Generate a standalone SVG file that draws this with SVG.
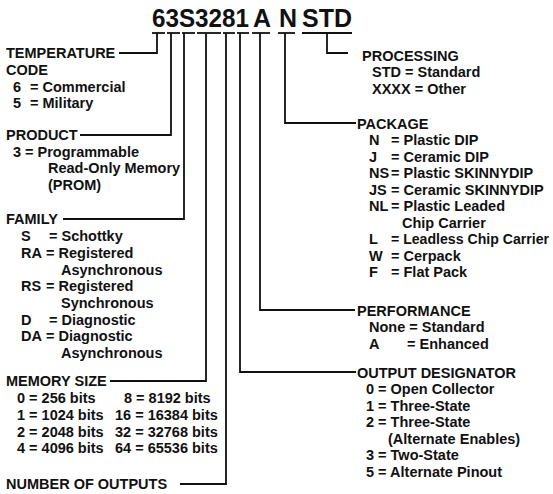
<svg xmlns="http://www.w3.org/2000/svg" width="553" height="494" viewBox="0 0 553 494">
<style>
text{font-family:"Liberation Sans",Arial,sans-serif;font-weight:bold;font-size:14.5px;fill:#111}
.h{font-size:25px}
.c path,.c line{stroke:#111;stroke-width:1.8;fill:none}
</style>
<rect width="553" height="494" fill="#fff"/>
<g id="partnumber">
<text class="h" x="152" y="27" textLength="97" lengthAdjust="spacingAndGlyphs">63S3281</text>
<text class="h" x="253" y="27">A</text>
<text class="h" x="279" y="27">N</text>
<text class="h" x="302" y="27" textLength="50" lengthAdjust="spacingAndGlyphs">STD</text>
</g>
<g class="c" id="connectors">
<line x1="152" y1="33" x2="165" y2="33"/>
<line x1="167" y1="33" x2="180" y2="33"/>
<line x1="182" y1="33" x2="195" y2="33"/>
<line x1="197" y1="33" x2="221" y2="33"/>
<line x1="223" y1="33" x2="235" y2="33"/>
<line x1="237" y1="33" x2="249" y2="33"/>
<line x1="252" y1="33" x2="270" y2="33"/>
<line x1="278" y1="33" x2="295" y2="33"/>
<line x1="302" y1="33" x2="352" y2="33"/>
<path d="M157 33V53H119"/>
<path d="M171 33V135H80"/>
<path d="M184 33V219H63"/>
<path d="M206 33V381H110"/>
<path d="M226 33V484H180"/>
<path d="M240 33V372H356"/>
<path d="M260 33V310H355"/>
<path d="M285 33V123H356"/>
<path d="M327 33V53H348"/>
</g>
<g id="temperature">
<text x="6" y="58">TEMPERATURE</text>
<text x="6" y="75">CODE</text>
<text x="13" y="91.5">6</text><text x="30" y="91.5">= Commercial</text>
<text x="13" y="108">5</text><text x="30" y="108">= Military</text>
</g>
<g id="product">
<text x="6" y="140">PRODUCT</text>
<text x="13" y="156.5">3</text><text x="25" y="156.5">= Programmable</text>
<text x="48" y="173">Read-Only Memory</text>
<text x="48" y="190">(PROM)</text>
</g>
<g id="family">
<text x="6" y="224">FAMILY</text>
<text x="21" y="241">S</text><text x="49" y="241">= Schottky</text>
<text x="21" y="258">RA</text><text x="46" y="258">= Registered</text>
<text x="61" y="274.5">Asynchronous</text>
<text x="21" y="291">RS</text><text x="46" y="291">= Registered</text>
<text x="61" y="308">Synchronous</text>
<text x="21" y="324.5">D</text><text x="49" y="324.5">= Diagnostic</text>
<text x="21" y="341">DA</text><text x="46" y="341">= Diagnostic</text>
<text x="61" y="358">Asynchronous</text>
</g>
<g id="memorysize">
<text x="6" y="386">MEMORY SIZE</text>
<text x="17" y="403">0 = 256 bits</text><text x="124" y="403">8 = 8192 bits</text>
<text x="17" y="420">1 = 1024 bits</text><text x="115" y="420">16 = 16384 bits</text>
<text x="17" y="436.5">2 = 2048 bits</text><text x="115" y="436.5">32 = 32768 bits</text>
<text x="17" y="453">4 = 4096 bits</text><text x="115" y="453">64 = 65536 bits</text>
</g>
<g id="outputs">
<text x="6" y="489">NUMBER OF OUTPUTS</text>
</g>
<g id="processing">
<text x="362" y="60.5">PROCESSING</text>
<text x="372" y="77">STD = Standard</text>
<text x="372" y="93.5">XXXX = Other</text>
</g>
<g id="package">
<text x="357" y="128.5">PACKAGE</text>
<text x="369" y="145">N</text><text x="391" y="145">= Plastic DIP</text>
<text x="369" y="161.5">J</text><text x="391" y="161.5">= Ceramic DIP</text>
<text x="369" y="178">NS</text><text x="391" y="178">= Plastic SKINNYDIP</text>
<text x="369" y="194.5">JS</text><text x="391" y="194.5">= Ceramic SKINNYDIP</text>
<text x="369" y="211">NL</text><text x="391" y="211">= Plastic Leaded</text>
<text x="402" y="227.5">Chip Carrier</text>
<text x="369" y="244">L</text><text x="391" y="244" textLength="158" lengthAdjust="spacingAndGlyphs">= Leadless Chip Carrier</text>
<text x="369" y="260.5">W</text><text x="391" y="260.5">= Cerpack</text>
<text x="369" y="277">F</text><text x="391" y="277">= Flat Pack</text>
</g>
<g id="performance">
<text x="357" y="315.5">PERFORMANCE</text>
<text x="369" y="332">None = Standard</text>
<text x="369" y="348.5">A</text><text x="407" y="348.5">= Enhanced</text>
</g>
<g id="designator">
<text x="357" y="377.5">OUTPUT DESIGNATOR</text>
<text x="366" y="394">0 = Open Collector</text>
<text x="366" y="410.5">1 = Three-State</text>
<text x="366" y="427">2 = Three-State</text>
<text x="388" y="443.5">(Alternate Enables)</text>
<text x="366" y="460">3 = Two-State</text>
<text x="366" y="476.5">5 = Alternate Pinout</text>
</g>
</svg>
